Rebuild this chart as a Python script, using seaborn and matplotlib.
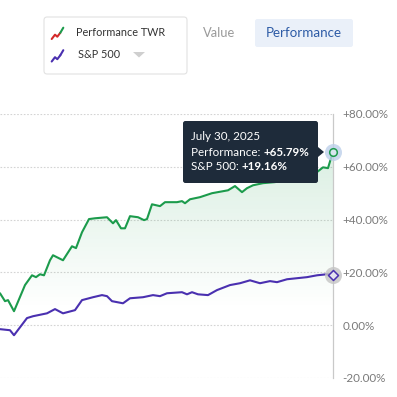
import matplotlib
matplotlib.use("Agg")
import matplotlib.pyplot as plt
from matplotlib.patches import FancyBboxPatch, Polygon
from matplotlib.lines import Line2D
import numpy as np
import pandas as pd
import seaborn as sns

# values (day offset -> cumulative return, %)
days_twr = [0, 5, 8, 14, 25, 32, 36, 40, 44, 50, 53, 63, 72, 76, 82, 89, 95, 107, 113, 116,
            121, 125, 130, 138, 144, 147, 152, 160, 165, 177, 182, 185, 190, 200, 212, 228,
            235, 242, 247, 253, 263, 275, 290, 305, 317, 323, 328, 333]
twr = [12.1, 9.1, 9.5, 5.3, 15.2, 18.9, 18.2, 19.3, 18.9, 24.6, 26.5, 24.6, 29.9, 29.2, 35.2,
       40.2, 40.5, 40.9, 38.6, 39.8, 36.7, 36.7, 41.3, 40.9, 39.8, 40.2, 45.8, 45.1, 46.6, 46.6,
       47.0, 46.2, 47.7, 48.5, 50.0, 51.1, 52.7, 50.4, 51.9, 53.0, 53.8, 54.2, 55.3, 56.4, 58.0,
       59.8, 59.5, 65.79]

days_sp = [0, 10, 14, 27, 33, 47, 55, 63, 75, 82, 93, 102, 107, 112, 123, 130, 143, 153, 160,
           167, 182, 187, 192, 198, 208, 217, 230, 240, 250, 260, 270, 277, 287, 297, 307, 317,
           327, 333]
sp500 = [-1.5, -1.9, -3.8, 2.7, 3.4, 4.5, 6.1, 4.5, 5.7, 9.5, 10.6, 11.4, 11.0, 9.1, 8.3, 10.2,
         10.6, 11.4, 11.0, 12.1, 12.5, 11.7, 12.5, 11.7, 11.4, 13.3, 15.2, 15.9, 17.0, 15.9, 16.7,
         16.3, 17.4, 17.8, 18.2, 18.9, 19.3, 19.16]

y_ticks = [-20, 0, 20, 40, 60, 80]
tip_date = "July 30, 2025"
series_names = ["Performance TWR", "S&P 500"]

GREEN = "#1c9b4c"
PURPLE = "#4a30b0"
GREY_TXT = "#7a7a7a"

sns.set_style("white")
plt.rcParams["font.family"] = ["Lato", "DejaVu Sans"]

df_twr = pd.DataFrame({"day": days_twr, "ret": twr})
df_sp = pd.DataFrame({"day": days_sp, "ret": sp500})

fig = plt.figure(figsize=(3.97, 3.97), dpi=100)
W = H = 397.0


def fx(x):
    return x / W


def fy(y):
    return 1 - y / H


ax = fig.add_axes([0, fy(378), fx(333), (378 - 114) / H])
ax.set_xlim(0, 333)
ax.set_ylim(-20, 80)

# gradient fill under the performance line
poly = ax.fill_between(df_twr["day"], df_twr["ret"], -20, color="none", lw=0)
yy = np.linspace(80, -20, 200)
alpha = np.clip((yy - 6) / 60, 0, 1) * 0.16
grad = np.zeros((200, 1, 4))
grad[..., 0], grad[..., 1], grad[..., 2] = 0.11, 0.61, 0.30
grad[:, 0, 3] = alpha
img = ax.imshow(grad, extent=[0, 333, -20, 80], aspect="auto", origin="upper", zorder=1)
img.set_clip_path(poly.get_paths()[0], transform=ax.transData)

sns.lineplot(data=df_sp, x="day", y="ret", ax=ax, color=PURPLE, lw=1.5, zorder=3)
sns.lineplot(data=df_twr, x="day", y="ret", ax=ax, color=GREEN, lw=1.5, zorder=3)

# end-point markers
ax.scatter([days_twr[-1]], [twr[-1]], s=150, color="#bdd0ea", alpha=0.8, zorder=4, lw=0, clip_on=False)
ax.scatter([days_twr[-1]], [twr[-1]], s=30, facecolor="#d7e6ef", edgecolor=GREEN, lw=1.1, zorder=5, clip_on=False)
ax.scatter([days_sp[-1]], [sp500[-1]], s=150, color="#c4c4c4", alpha=0.8, zorder=4, lw=0, clip_on=False)
ax.scatter([days_sp[-1]], [sp500[-1]], s=26, marker="D", facecolor="#e4e2f0", edgecolor=PURPLE, lw=1.1, zorder=5, clip_on=False)

ax.set_yticks(y_ticks)
ax.set_yticklabels([("+" if v > 0 else "") + f"{v:.2f}%" for v in y_ticks])
ax.yaxis.tick_right()
ax.tick_params(axis="y", length=0, pad=7, labelsize=8.4, labelcolor=GREY_TXT)
ax.set_xticks([])
ax.set_xlabel("")
ax.set_ylabel("")
ax.grid(axis="y", color="#d4d4d4", ls=(0, (1.5, 1.5)), lw=0.8)
ax.set_axisbelow(True)
for s in ["left", "top", "bottom"]:
    ax.spines[s].set_visible(False)
ax.spines["right"].set_color("#c9c9c9")
ax.spines["right"].set_linewidth(0.9)

# tooltip
tip = FancyBboxPatch((fx(183), fy(183)), fx(318) - fx(183), (183 - 121) / H,
                     boxstyle="round,pad=0,rounding_size=0.006", transform=fig.transFigure,
                     facecolor="#1e2b3a", edgecolor="none", zorder=10)
fig.patches.append(tip)
fig.patches.append(Polygon([(fx(318), fy(147)), (fx(324), fy(152)), (fx(318), fy(157))],
                           closed=True, transform=fig.transFigure, facecolor="#1e2b3a",
                           edgecolor="none", zorder=10))
fig.text(fx(191), fy(136), tip_date, color="white", fontsize=8.4, va="center", zorder=11)
fig.canvas.draw()
r = fig.canvas.get_renderer()
for ypos, label, val in [(152, "Performance: ", twr[-1]), (166, "S&P 500: ", sp500[-1])]:
    t = fig.text(fx(191), fy(ypos), label, color="white", fontsize=8.4, va="center", zorder=11)
    bb = t.get_window_extent(renderer=r)
    fig.text(bb.x1 / W, fy(ypos), f"+{val:.2f}%", color="white", fontsize=8.4,
             fontweight="bold", va="center", zorder=11)

# legend box
fig.patches.append(FancyBboxPatch((fx(44), fy(74)), fx(187) - fx(44), (74 - 17) / H,
                                  boxstyle="round,pad=0,rounding_size=0.008",
                                  transform=fig.transFigure, facecolor="white",
                                  edgecolor="#e2e2e2", lw=0.8))
icon = [(0, 0), (3.3, -4.3), (5.6, -2.3), (8.6, -6.2), (11.6, -11.3)]
for i, (cols, name) in enumerate([(("#d42a2a", GREEN), series_names[0]), ((PURPLE, PURPLE), series_names[1])]):
    y0 = 39 + 22.5 * i
    xs = [fx(51.7 + p[0]) for p in icon]
    ys = [fy(y0 + p[1]) for p in icon]
    fig.add_artist(Line2D(xs[:4], ys[:4], color=cols[0], lw=1.5, transform=fig.transFigure))
    fig.add_artist(Line2D(xs[3:], ys[3:], color=cols[1], lw=1.5, transform=fig.transFigure))
    fig.text(fx(76 + 2 * i), fy(32 + 22 * i), name, fontsize=7.8, color="#333333", va="center")
fig.patches.append(Polygon([(fx(133), fy(52)), (fx(145), fy(52)), (fx(139), fy(57.5))],
                           closed=True, transform=fig.transFigure, facecolor="#cfcfcf",
                           edgecolor="none"))

fig.text(fx(219), fy(33), "Value", fontsize=9.3, color="#9a9a9a", va="center", ha="center")
fig.patches.append(FancyBboxPatch((fx(255), fy(47)), fx(353) - fx(255), 28 / H,
                                  boxstyle="round,pad=0,rounding_size=0.006",
                                  transform=fig.transFigure, facecolor="#eaf0f9",
                                  edgecolor="none"))
fig.text(fx(304), fy(33), "Performance", fontsize=9.6, color="#2d5ba6", va="center", ha="center")

fig.savefig("out.png", dpi=100)
